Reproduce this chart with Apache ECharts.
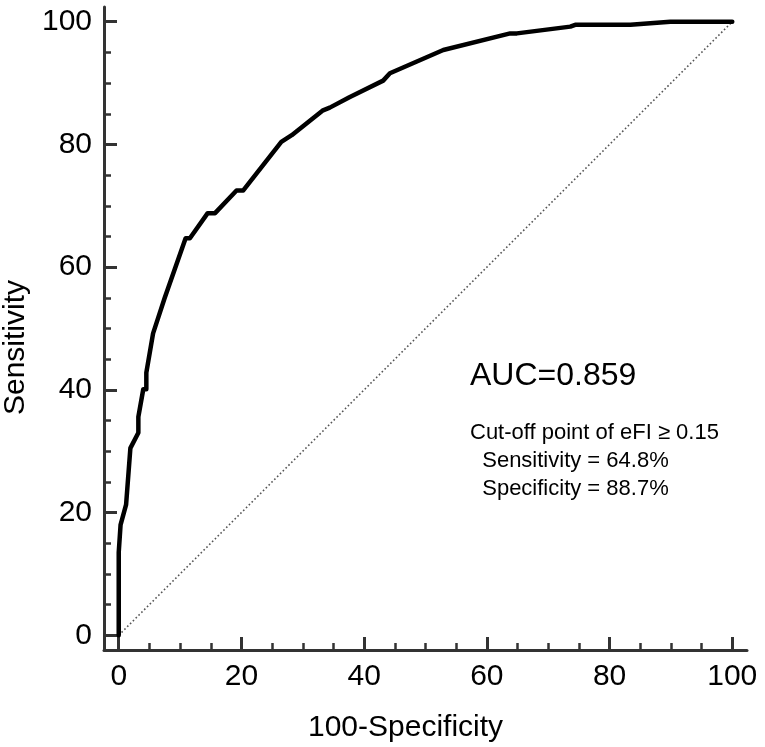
<!DOCTYPE html>
<html lang="en">
<head>
    <meta charset="UTF-8">
    <script src="https://cdn.jsdelivr.net/npm/echarts@6.0.0/dist/echarts.min.js"></script>
    <title>ROC curve</title>
    <style>
        html, body { margin: 0; padding: 0; background: #fff; }
    </style>
</head>
<body>
<div id="main" style="width: 765px;height:747px;"></div>

<script type="text/javascript">

    // ROC curve points (100-Specificity, Sensitivity)
    var fprValues = [0, 0, 0.3, 1.2, 1.9, 3.2, 3.2, 4.0, 4.5, 4.5, 5.6, 7.5, 10.9, 11.6, 14.5, 15.7,
        19.2, 20.3, 26.5, 28.2, 33.2, 34.4, 37.6, 43.1, 44.2, 52.9, 63.8, 64.9, 73.6, 74.4, 83.4, 89.9, 100];
    var tprValues = [0, 13.5, 18, 21.3, 30.5, 33, 35.6, 40.1, 40.1, 42.8, 49.2, 55, 64.7, 64.7, 68.8, 68.8,
        72.5, 72.5, 80.4, 81.5, 85.5, 86.0, 87.7, 90.4, 91.6, 95.4, 98.1, 98.1, 99.2, 99.5, 99.5, 100, 100];

    // chance line
    var refX = [0, 100];
    var refY = [0, 100];

    // ticks
    var majorTicks = [0, 20, 40, 60, 80, 100];
    var minorTicks = [5, 10, 15, 25, 30, 35, 45, 50, 55, 65, 70, 75, 85, 90, 95];

    var aucText = 'AUC=0.859';
    var cutoffLines = ['Cut-off point of eFI \u2265 0.15', '  Sensitivity = 64.8%', '  Specificity = 88.7%'];

    var FONT = '"Liberation Sans", Arial, sans-serif';
    var AXIS_COLOR = '#333';

    function zip(a, b) {
        var out = [];
        for (var i = 0; i < a.length; i++) out.push([a[i], b[i]]);
        return out;
    }

    function majorAxis(name, pad) {
        return {
            type: 'value',
            min: -2.4,
            max: 102.4,
            name: name,
            nameLocation: 'middle',
            nameTextStyle: { fontSize: 30, fontFamily: FONT, color: '#000', padding: pad },
            axisLine: { show: true, onZero: false, lineStyle: { color: AXIS_COLOR, width: 3 } },
            axisTick: { show: true, inside: true, length: 13, customValues: majorTicks,
                lineStyle: { color: AXIS_COLOR, width: 3 } },
            axisLabel: { show: true, customValues: majorTicks, margin: 12,
                fontSize: 30, fontFamily: FONT, color: '#000' },
            splitLine: { show: false }
        };
    }

    function minorAxis() {
        return {
            type: 'value',
            min: -2.4,
            max: 102.4,
            axisLine: { show: false, onZero: false },
            axisTick: { show: true, inside: true, length: 7, customValues: minorTicks,
                lineStyle: { color: AXIS_COLOR, width: 2.5 } },
            axisLabel: { show: false },
            splitLine: { show: false }
        };
    }

    var xMain = majorAxis('100-Specificity', [0, 40, 0, 0]);
    xMain.nameGap = 63;
    xMain.position = 'bottom';
    var xMinor = minorAxis();
    xMinor.position = 'bottom';

    var yMain = majorAxis('Sensitivity', [0, 38, 0, 0]);
    yMain.nameGap = 68;
    yMain.position = 'left';
    var yMinor = minorAxis();
    yMinor.position = 'left';

    var myChart = echarts.init(document.getElementById('main'));

    var option = {
        backgroundColor: '#fff',
        animation: false,
        grid: { left: 104, right: 18, top: 7, bottom: 97, containLabel: false, outerBoundsMode: 'none' },
        xAxis: [xMain, xMinor],
        yAxis: [yMain, yMinor],
        series: [
            {
                type: 'line',
                data: zip(refX, refY),
                showSymbol: false,
                silent: true,
                lineStyle: { color: '#555', width: 1.6, type: [1.6, 2.4] }
            },
            {
                type: 'line',
                data: zip(fprValues, tprValues),
                showSymbol: false,
                lineStyle: { color: '#000', width: 4.5, join: 'round', cap: 'round' }
            }
        ],
        graphic: [
            {
                type: 'text', left: 470, top: 360,
                style: { text: aucText, fontSize: 32, fontFamily: FONT, fill: '#000' }
            },
            {
                type: 'text', left: 470, top: 419,
                style: { text: cutoffLines.join('\n'), fontSize: 22, lineHeight: 28,
                    fontFamily: FONT, fill: '#000' }
            }
        ]
    };

    myChart.setOption(option);
</script>
</body>
</html>
